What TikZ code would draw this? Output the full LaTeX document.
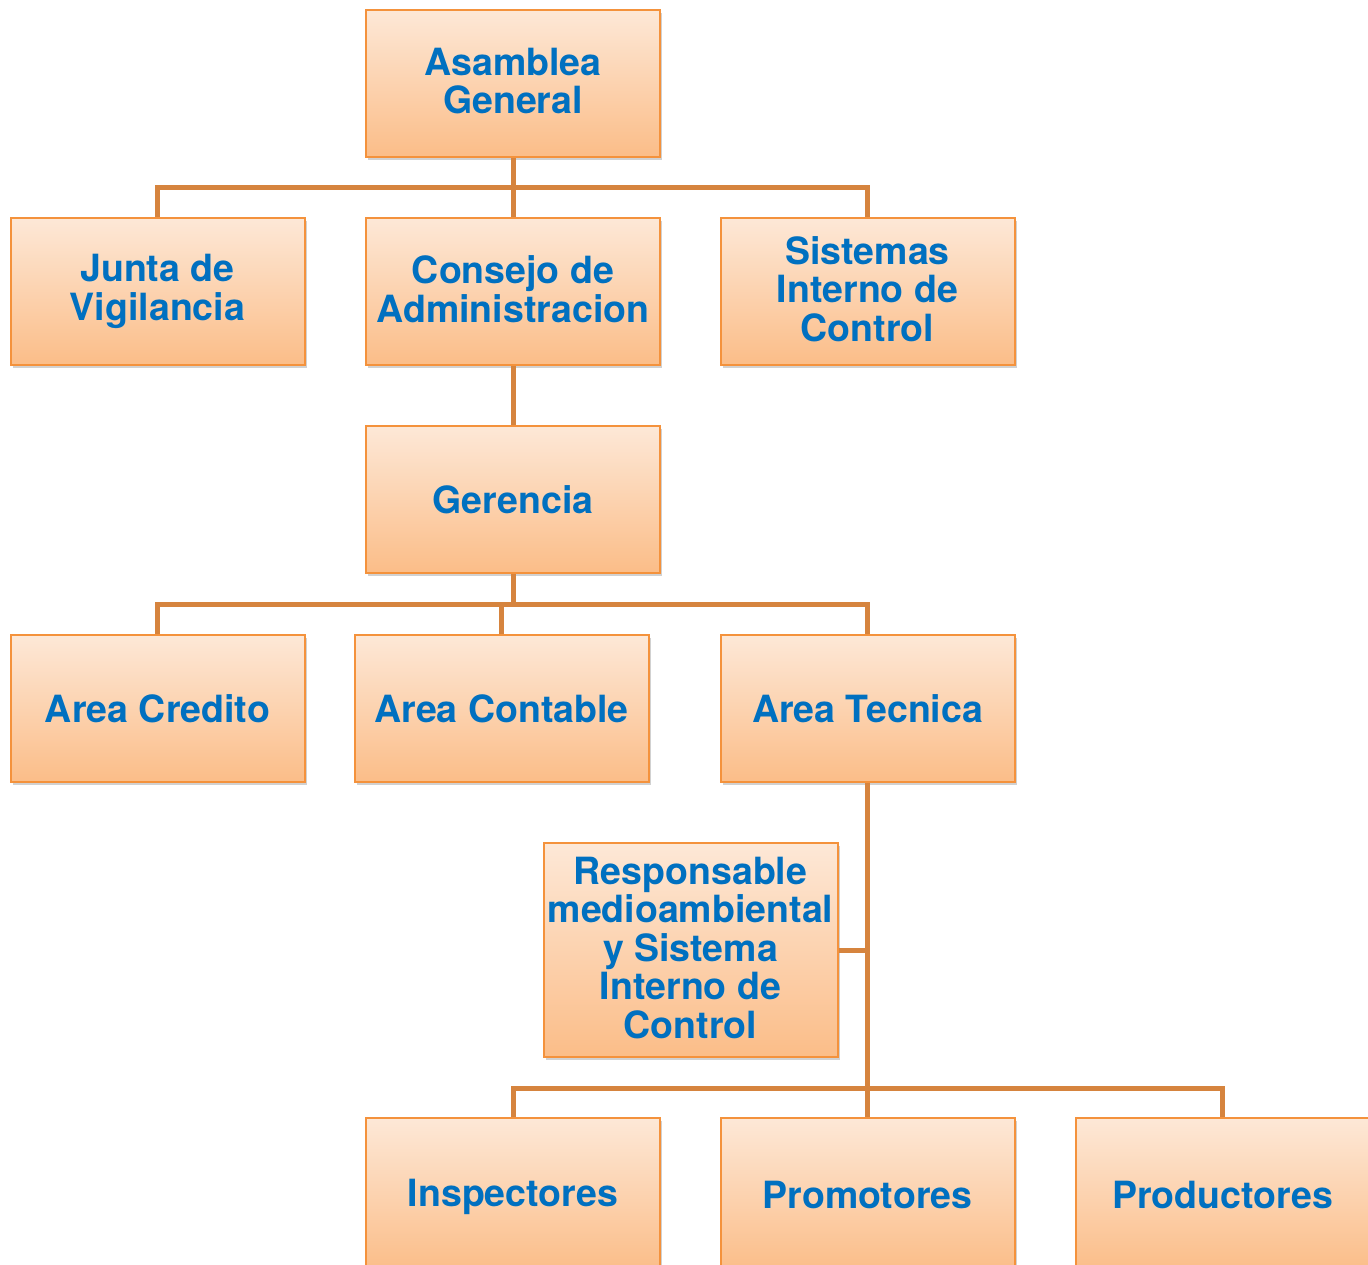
\documentclass[tikz,border=0pt]{standalone}
\usepackage{fontspec}
\setmainfont{TeX Gyre Heros}
\usetikzlibrary{shadows}
\definecolor{boxtop}{HTML}{FDE8D7}
\definecolor{boxbot}{HTML}{FBBD88}
\definecolor{boxline}{HTML}{F4923C}
\definecolor{linkc}{HTML}{D6843E}
\definecolor{txtc}{HTML}{0070C0}
\tikzset{
  orgbox/.style={rectangle, draw=boxline, line width=2pt, top color=boxtop, bottom color=boxbot,
    minimum width=294pt, minimum height=147pt, inner sep=2pt, align=center,
    font=\bfseries\fontsize{37.5}{38.5}\selectfont, text=txtc,
    execute at begin node={\rule{0pt}{32pt}}, execute at end node={\rule[-5pt]{0pt}{5pt}},
    drop shadow={shadow xshift=2pt, shadow yshift=-3pt, opacity=0.3, fill=black!60}},
  link/.style={draw=linkc, line width=5pt}
}
\begin{document}
\begin{tikzpicture}[x=1pt,y=-1pt]
\useasboundingbox (0,0) rectangle (1368,1264);
\clip (0,0) rectangle (1368,1264);
\node[orgbox] (ag) at (513,83.5) {Asamblea\\General};
\node[orgbox] (jv) at (157.5,291.5) {Junta de\\Vigilancia};
\node[orgbox] (ca) at (513,291.5) {Consejo de\\Administracion};
\node[orgbox] (si) at (867.5,291.5) {Sistemas\\Interno de\\Control};
\node[orgbox] (ge) at (513,499.5) {Gerencia};
\node[orgbox] (ac) at (157.5,708.5) {Area Credito};
\node[orgbox] (ao) at (501.5,708.5) {Area Contable};
\node[orgbox] (at) at (867.5,708.5) {Area Tecnica};
\node[orgbox, minimum height=214pt] (rm) at (690.5,950) {Responsable\\medioambiental\\y Sistema\\Interno de\\Control};
\node[orgbox, minimum height=153pt] (in) at (513,1194.5) {Inspectores};
\node[orgbox, minimum height=153pt] (pm) at (867.5,1194.5) {Promotores};
\node[orgbox, minimum height=153pt] (pd) at (1222.5,1194.5) {Productores};
% connectors
\coordinate (b1) at (513,187);
\draw[link] (ag.south) -- (b1);
\draw[link] (jv.north) |- (b1) -| (si.north);
\draw[link] (b1) -- (ca.north);
\draw[link] (ca.south) -- (ge.north);
\coordinate (b2) at (513,604);
\draw[link] (ge.south) -- (b2);
\draw[link] (ac.north) |- (b2) -| (at.north);
\draw[link] (ao.north) -- (ao.north |- b2);
\coordinate (b3) at (867.5,1088);
\draw[link] (at.south) -- (b3);
\draw[link] (rm.east) -- (rm.east -| at.south);
\draw[link] (in.north) |- (b3) -| (pd.north);
\draw[link] (b3) -- (pm.north);
\end{tikzpicture}
\end{document}
